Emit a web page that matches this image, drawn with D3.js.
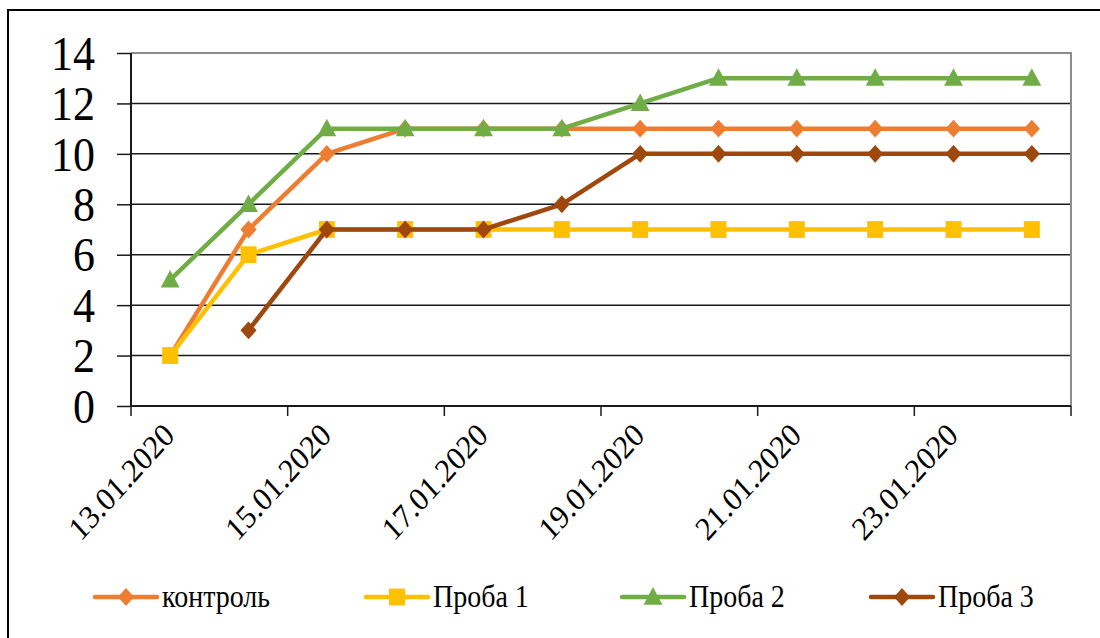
<!DOCTYPE html>
<html>
<head>
<meta charset="utf-8">
<script src="https://cdn.jsdelivr.net/npm/d3@7"></script>
<style>
  html, body { margin: 0; padding: 0; background: #fff; }
  svg { display: block; }
</style>
</head>
<body>
<svg id="chart" width="1100" height="638"></svg>
<script>
// Dates of observation
const dates = ["13.01.2020","14.01.2020","15.01.2020","16.01.2020","17.01.2020","18.01.2020",
               "19.01.2020","20.01.2020","21.01.2020","22.01.2020","23.01.2020","24.01.2020"];
// Series values per date (null = no measurement)
const kontrol = [2, 7, 10, 11, 11, 11, 11, 11, 11, 11, 11, 11];
const proba1  = [2, 6, 7, 7, 7, 7, 7, 7, 7, 7, 7, 7];
const proba2  = [5, 8, 11, 11, 11, 11, 12, 13, 13, 13, 13, 13];
const proba3  = [null, 3, 7, 7, 7, 8, 10, 10, 10, 10, 10, 10];
const seriesNames = ["контроль", "Проба 1", "Проба 2", "Проба 3"];
const yTicks = [0, 2, 4, 6, 8, 10, 12, 14];

const series = [
  { name: seriesNames[0], values: kontrol, color: "#ED7D31", marker: "diamond" },
  { name: seriesNames[1], values: proba1,  color: "#FFC000", marker: "square" },
  { name: seriesNames[2], values: proba2,  color: "#70AD47", marker: "triangle" },
  { name: seriesNames[3], values: proba3,  color: "#9E480E", marker: "diamond" }
];

const FONT = '"Liberation Serif"';
const svg = d3.select("#chart");
const stretch = 1.1;

// outer frame
svg.append("rect")
  .attr("x", 8).attr("y", 10).attr("width", 1100).attr("height", 640)
  .attr("fill", "#fff").attr("stroke", "#000").attr("stroke-width", 2);

const plot = { left: 131, right: 1071, top: 53, bottom: 406 };

const x = d3.scaleBand().domain(dates).range([plot.left, plot.right]).padding(0);
const y = d3.scaleLinear().domain([0, 14]).range([plot.bottom, plot.top]);
const cx = d => x(d) + x.bandwidth() / 2;

// horizontal gridlines
svg.append("g").selectAll("line")
  .data(yTicks.filter(t => t > 0 && t < 14))
  .join("line")
  .attr("x1", plot.left).attr("x2", plot.right)
  .attr("y1", d => y(d)).attr("y2", d => y(d))
  .attr("stroke", "#1a1a1a").attr("stroke-width", 1.5);

// plot area border (top & right)
svg.append("path")
  .attr("d", `M${plot.left},${y(14)}H${plot.right}V${plot.bottom}`)
  .attr("fill", "none").attr("stroke", "#8c8c8c").attr("stroke-width", 2);

// Y axis
const yAxis = svg.append("g").attr("transform", `translate(${plot.left},0)`)
  .call(d3.axisLeft(y).tickValues(yTicks).tickSize(14).tickPadding(0).tickFormat(d3.format("d")));
yAxis.select(".domain").attr("stroke", "#1a1a1a").attr("stroke-width", 2)
  .attr("d", `M0,${plot.bottom}V${plot.top}`);
yAxis.selectAll(".tick line").attr("stroke", "#1a1a1a").attr("stroke-width", 1.5);
yAxis.selectAll(".tick text")
  .attr("x", -36).attr("y", 0).attr("dy", null)
  .attr("font-size", 44)
  .style("font-family", FONT)
  .attr("fill", "#000")
  .attr("dominant-baseline", "central")
  .attr("transform", `scale(1,${stretch})`);

// X axis: ticks every second category boundary
const xg = svg.append("g");
xg.append("line")
  .attr("x1", plot.left).attr("x2", plot.right)
  .attr("y1", plot.bottom).attr("y2", plot.bottom)
  .attr("stroke", "#1a1a1a").attr("stroke-width", 2);
const labelled = dates.filter((d, i) => i % 2 === 0);
const boundaries = labelled.map(d => x(d)).concat([plot.right]);
xg.selectAll("line.tk").data(boundaries).join("line").attr("class", "tk")
  .attr("x1", d => d).attr("x2", d => d)
  .attr("y1", plot.bottom).attr("y2", plot.bottom + 10)
  .attr("stroke", "#1a1a1a").attr("stroke-width", 1.5);
xg.selectAll("text").data(labelled).join("text")
  .attr("transform", d => `translate(${cx(d) + 6},${plot.bottom + 31}) scale(1,${stretch}) rotate(-45)`)
  .attr("text-anchor", "end")
  .attr("fill", "#000")
  .style("font-family", FONT)
  .attr("font-size", 30)
  .text(d => d);

// markers
function markerPath(type, size) {
  const s = size / 2;
  if (type === "diamond") return `M0,${-s * 1.05}L${s * 0.95},0L0,${s * 1.05}L${-s * 0.95},0Z`;
  if (type === "square") return `M${-s},${-s * 1.05}H${s}V${s * 1.05}H${-s}Z`;
  if (type === "triangle") return `M0,${-s * 1.1}L${s * 1.05},${s * 0.85}H${-s * 1.05}Z`;
}
const markerSize = { diamond: 17, square: 16, triangle: 18 };

const line = d3.line()
  .defined(d => d.v !== null)
  .x(d => cx(d.date)).y(d => y(d.v));

series.forEach(s => {
  const pts = s.values.map((v, i) => ({ date: dates[i], v }));
  const g = svg.append("g");
  g.append("path").datum(pts)
    .attr("d", line)
    .attr("fill", "none").attr("stroke", s.color)
    .attr("stroke-width", 4.5).attr("stroke-linejoin", "round");
  g.selectAll("path.m").data(pts.filter(p => p.v !== null)).join("path").attr("class", "m")
    .attr("d", markerPath(s.marker, markerSize[s.marker]))
    .attr("transform", p => `translate(${cx(p.date)},${y(p.v)})`)
    .attr("fill", s.color);
});

// legend
const legendX = [95, 366, 622, 871];
const legendY = 597;
const lg = svg.append("g");
series.forEach((s, i) => {
  const g = lg.append("g").attr("transform", `translate(${legendX[i]},${legendY})`);
  g.append("line").attr("x1", 0).attr("x2", 62).attr("y1", 0).attr("y2", 0)
    .attr("stroke", s.color).attr("stroke-width", 4.5).attr("stroke-linecap", "round");
  g.append("path").attr("d", markerPath(s.marker, markerSize[s.marker]))
    .attr("transform", "translate(31,0)").attr("fill", s.color);
  g.append("text")
    .attr("transform", `translate(67,0) scale(1,${stretch})`)
    .attr("dominant-baseline", "central")
    .attr("fill", "#000")
    .style("font-family", FONT)
    .attr("font-size", 28)
    .text(s.name);
});
</script>
</body>
</html>
